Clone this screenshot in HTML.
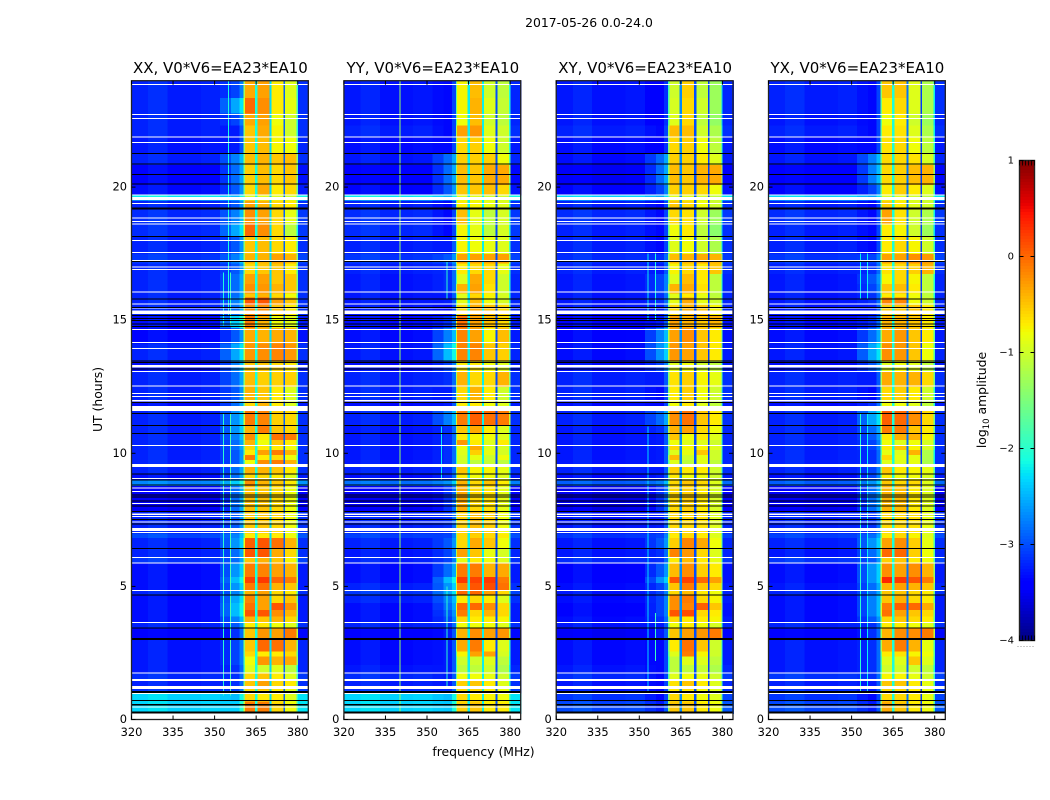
<!DOCTYPE html>
<html lang="en">
<head>
<meta charset="utf-8">
<title>2017-05-26 0.0-24.0</title>
<style>
html,body{margin:0;padding:0;background:#fff;width:1050px;height:800px;overflow:hidden}
svg{display:block}
text{font-family:"DejaVu Sans","Liberation Sans",sans-serif;fill:#000}
</style>
</head>
<body>
<svg id="chart" xmlns="http://www.w3.org/2000/svg" width="1050" height="800" viewBox="0 0 1050 800">
  <text x="589" y="27" font-size="12.4" text-anchor="middle">2017-05-26 0.0-24.0</text>
  <text x="483.5" y="756" font-size="12.4" text-anchor="middle">frequency (MHz)</text>
  <text transform="translate(102,399.5) rotate(-90)" font-size="12.4" text-anchor="middle">UT (hours)</text>
  <text transform="translate(986,400) rotate(-90)" font-size="12.4" text-anchor="middle">log<tspan font-size="8.5" dy="3">10</tspan><tspan dy="-3"> amplitude</tspan></text>
</svg>
<script>
// ---- Data: time rows (UT hours), frequency columns (MHz), log10 amplitudes ----
const utEdges = [24,23.35,22.77,22.31,21.87,21.24,20.83,20.08,19.69,19.49,19.14,18.61,18.15,17.49,17.13,16.74,16.36,16.01,15.86,15.58,15.17,14.71,14.13,13.44,13.10,12.50,11.98,11.59,11.05,10.75,10.50,10.29,10.12,9.94,9.75,9.60,9.22,9.00,8.77,7.81,6.99,6.81,6.42,6.09,5.87,5.36,5.12,4.85,4.67,4.37,4.11,3.86,3.65,3.41,3.02,2.55,2.36,2.05,1.74,1.46,1.13,0.98,0.67,0.23];
const freqEdges = [320,326,333,345,352,356,359,360.4,360.9,364.6,365.5,369.8,370.6,374.8,375.4,379.6,380.1,384];
const xTickLabels = [320,335,350,365,380];
const yTickLabels = [0,5,10,15,20];
const colorbarTicks = [1,0,-1,-2,-3,-4];
const colorMin = -4;
const colorMax = 1;
const panelTitles = ["XX, V0*V6=EA23*EA10","YY, V0*V6=EA23*EA10","XY, V0*V6=EA23*EA10","YX, V0*V6=EA23*EA10"];

// Each row: [low-band, near-edge, band1, band2, band3, band4]
const xxCells = [
[-3.1,-2.7,-.35,-.3,-.7,-.9],[-3.1,-2.2,0,-.2,-.7,-.85],[-3.1,-2.7,-.35,-.3,-.8,-1],[-3.1,-2.9,-.5,-.35,-.75,-1],[-3.15,-2.9,-.5,-.45,-.75,-.8],[-3.1,-2.4,-.45,-.4,-.5,-.45],[-3.25,-2.5,-.55,-.45,-.6,-.5],[-3.2,-2.6,-.6,-.35,-.7,-.6],[-2.1,-2.1,-.9,-.9,-.9,-1],
[-3.1,-2.6,-.3,-.4,-.6,-.7],[-3.05,-2.4,-.2,-.3,-.6,-.85],[-3.05,-2.2,0,-.2,-.6,-1.1],[-3.1,-2.6,-.5,-.45,-.6,-.7],[-3,-2.4,-.4,-.4,-.3,-.4],[-3.1,-2.6,-.6,-.5,-.5,-.7],[-3.1,-2.5,-.3,-.3,-.5,-.5],[-3.1,-2.5,-.2,-.25,-.4,-.5],[-3.1,-2.5,-.5,-.4,-.6,-.8],[-3.1,-2.4,.1,.1,-.3,-.5],[-3.1,-2.5,-.2,-.2,-.5,-.7],[-3.2,-2,-.1,-.4,-.8,-.9],[-3.25,-2.6,-.35,-.4,-.35,-.4],[-3.1,-2.2,-.25,-.2,-.15,-.25],[-3.2,-2.4,-.5,-.5,-.6,-.7],[-3.1,-2.5,-.45,-.55,-.55,-.55],[-3.1,-2.6,-.4,-.5,-.7,-.9],
[-3.2,-2.5,-.6,-.4,-.7,-.9],[-3.1,-2.3,-.1,-.15,-.55,-.6],[-3.1,-2.3,-.4,-.1,-.5,-.6],[-3.1,-2.4,-.2,-.7,-.05,-.1],[-3.1,-2.5,-.4,-.8,-.5,-.7],[-3.1,-2.5,-.6,-.7,-.7,-.8],[-3.1,-2.6,-.7,-.3,-.1,-.4],[-3.1,-2.6,-.1,-.7,-.6,-.8],[-3.1,-2.6,-.8,-.2,-.1,-.4],[-3.1,-2.5,-.4,-.4,-.5,-.7],[-3.2,-2.5,-.6,-.6,-.7,-.9],[-2.6,-2,-.2,-.4,-.5,-.7],[-3.35,-2.5,-.45,-.5,-.6,-.8],[-3.1,-2.6,-.5,-.5,-.6,-.8],[-2.9,-2.4,-.7,-.7,-.7,-.8],[-3.1,-2.3,.05,.1,-.05,-.4],[-3.1,-2.5,.1,.1,-.35,-.6],[-3,-2.5,-.5,-.4,-.5,-.75],[-3.2,-2.3,-.1,-.15,-.3,-.4],[-3.2,-2.1,.2,.25,0,-.1],[-3.2,-2.3,-.1,-.05,-.4,-.5],[-3.1,-2.4,-.4,-.3,-.6,-.7],[-3.2,-2.2,-.15,-.3,-.6,-.5],[-3.2,-2.1,-.05,-.3,.1,-.2],[-3.2,-2.1,.1,.1,-.2,-.4],[-3.2,-2.4,-.4,-.5,-.4,-.6],[-3.1,-2.6,-.7,-.7,-.8,-.9],[-3.3,-2.8,-.5,-.25,-.3,-.1],[-3.15,-2.7,-.5,0,-.05,-.4],[-3.15,-2.7,-.6,-.7,-.7,-.6],[-3.15,-2.7,-.8,-.25,-.4,-.35],[-3.15,-2.8,-.9,-1,-.9,-1.1],[-3.05,-2.8,-.6,-.5,-.7,-.9],[-3.1,-2.8,-.5,-.3,-.6,-.7],[-3,-2.7,-.6,-.6,-.7,-.9],[-2.2,-2.1,-.6,-.7,-.7,-.9],[-2.2,-2,-.1,-.1,-.6,-.8]
];
const yyCells = [
[-3.15,-3,-.75,-.45,-1,-1.1],[-3.15,-3,-.75,-.4,-.9,-1.05],[-3.15,-3,-.8,-.45,-1,-1.1],[-3.1,-3,-.3,-.25,-.9,-1],[-3.2,-3,-.6,-.55,-.8,-1],[-3.15,-2.5,-.55,-.55,-.55,-.8],[-3.3,-2.5,-.45,-.5,-.35,-.35],[-3.25,-2.6,-.5,-.5,-.45,-.6],[-2.1,-2.1,-.9,-.9,-1,-1],
[-3.1,-3,-.7,-.75,-.85,-.9],[-3.05,-3,-.45,-.85,-1.1,-.95],[-3.05,-3,-.75,-.85,-1.1,-.95],[-3.1,-2.9,-.75,-.8,-.85,-.9],[-3,-2.6,-.3,-.3,-.3,-.3],[-3.1,-2.8,-.7,-.6,-.6,-.85],[-3.15,-2.8,-.9,-.35,-.6,-1],[-3.15,-2.8,-.4,-.3,-.65,-1],[-3.15,-2.9,-.9,-.6,-.75,-.95],[-3.15,-2.9,-.85,-.45,-.8,-.95],[-3.15,-3,-.6,-.35,-.45,-.6],[-3.2,-2.8,-.05,-.3,-.45,-.6],[-3.2,-2.4,-.15,-.3,-.75,-.45],[-3.15,-2.1,-.15,-.15,-.5,-.55],[-3.2,-2.7,-.7,-.7,-.8,-.9],[-3.1,-2.8,-.4,-.6,-.6,-.4],[-3.1,-2.9,-.6,-.4,-.7,-1],
[-3.2,-2.9,-.7,-.7,-.8,-.9],[-3.1,-2.4,-.1,.05,-.05,-.1],[-3.15,-2.8,-.5,-.35,-.7,-.9],[-3.15,-2.8,-.7,-.75,-.8,-.9],[-3.15,-2.8,-.25,-.7,-.9,-.7],[-3.15,-2.8,-.8,-.35,-.9,-.95],[-3.15,-2.8,-.9,-.55,-.85,-.95],[-3.15,-2.8,-.95,-.85,-1,-.8],[-3.15,-2.8,-1,-1.1,-1.05,-1.1],[-3.1,-2.8,-.5,-.75,-.75,-.85],[-3.2,-2.8,-.7,-.8,-.8,-.9],[-2.7,-2.3,-.4,-.6,-.5,-.7],[-3.35,-2.8,-.35,-.6,-.65,-.85],[-3.1,-2.8,-.55,-.45,-.55,-.8],[-2.95,-2.7,-.6,-.55,-.6,-.7],[-3.1,-2.6,-.6,-.35,-.5,-.8],[-3.15,-2.7,-.3,-.5,-.85,-.95],[-3.1,-2.7,-.85,-.7,-.8,-.9],[-3.2,-2.5,-.1,-.1,-.4,-.35],[-3.2,-2.1,.25,.2,.25,-.1],[-3.1,-2.3,-.15,.1,.15,-.05],[-3,-2.2,0,0,-.3,-.6],[-3.1,-2.4,-.7,-.6,-.7,-.9],[-3.2,-2.5,0,0,-.2,-.6],[-3.2,-2.6,-.1,-.6,-.4,-.6],[-3.2,-2.7,-.6,-.7,-.7,-.75],[-3.1,-2.8,-.8,-.8,-.8,-.9],[-3.3,-2.9,-.4,-.2,-.3,-.25],[-3.2,-2.9,-.35,-.1,-.7,-.9],[-3.2,-2.9,-.75,-.3,-.3,-.95],[-3.2,-2.9,-1,-1,-.9,-1.1],[-3.15,-2.9,-1.1,-1.1,-1,-1.2],[-3.05,-2.9,-.8,-.8,-.85,-1],[-3.1,-2.9,-.55,-.5,-.7,-.9],[-3,-2.8,-.6,-.6,-.7,-.8],[-2.2,-2.1,-.6,-.7,-.75,-.8],[-2.2,-2.05,-.55,-.5,-.7,-.7]
];
const xyCells = [
[-3.15,-3.1,-1,-.55,-1.1,-1.3],[-3.15,-3.1,-.95,-.6,-1,-1.3],[-3.15,-3.1,-.9,-.6,-1.1,-1.35],[-3.1,-3,-.45,-.45,-1,-1.2],[-3.2,-3.1,-.6,-.55,-.8,-1.1],[-3.2,-2.5,-.55,-.55,-.7,-.9],[-3.35,-2.5,-.45,-.5,-.4,-.35],[-3.25,-2.7,-.55,-.55,-.6,-.8],[-2.2,-2.2,-.9,-.9,-1,-1.1],
[-3.1,-3,-.5,-.6,-.8,-1],[-3.05,-3,-.6,-.65,-1,-1.3],[-3.1,-3,-.8,-.7,-1.1,-1.4],[-3.1,-3,-.9,-.8,-1,-1.2],[-3.05,-2.8,-.45,-.4,-.35,-.4],[-3.1,-2.9,-.75,-.6,-.7,-.5],[-3.15,-2.7,-.9,-.45,-.7,-1.1],[-3.15,-2.7,-.4,-.35,-.65,-1.1],[-3.15,-2.8,-.9,-.7,-.85,-1.1],[-3.15,-2.8,-.85,-.35,-.85,-1],[-3.15,-2.9,-.6,-.4,-.5,-.75],[-3.25,-2.9,-.3,-.4,-.5,-.4],[-3.25,-2.4,-.3,-.2,-.5,-.7],[-3.2,-2.3,-.25,-.3,-.5,-.7],[-3.2,-2.7,-.9,-.8,-1,-1.1],[-3.1,-2.9,-.65,-.55,-.75,-.85],[-3.1,-3,-.7,-.55,-.8,-1],
[-3.2,-3,-.8,-.7,-.9,-1.1],[-3.1,-2.5,-.2,-.05,-.5,-.7],[-3.15,-2.8,-.4,-.3,-.6,-.8],[-3.15,-2.9,-.5,-.8,-.7,-.9],[-3.15,-2.9,-.8,-.9,-.9,-1],[-3.15,-2.9,-.6,-.75,-.75,-.9],[-3.15,-2.9,-.9,-.85,-.5,-1],[-3.15,-2.9,-.45,-1,-.85,-1],[-3.15,-2.9,-.9,-1.1,-.9,-1.1],[-3.1,-2.9,-.55,-.7,-.7,-1],[-3.2,-2.9,-.7,-.8,-.8,-1],[-2.8,-2.4,-.6,-.5,-.6,-.9],[-3.4,-2.8,-.6,-.55,-.7,-.95],[-3.15,-2.9,-.6,-.6,-.65,-.9],[-3,-2.7,-.7,-.6,-.7,-.9],[-3.15,-2.6,-.55,-.15,-.35,-.8],[-3.15,-2.8,-.15,-.25,-.6,-.9],[-3.05,-2.8,-.7,-.45,-.7,-.85],[-3.25,-2.6,-.45,-.2,-.55,-.7],[-3.25,-2.3,.1,.2,0,-.3],[-3.2,-2.7,-.5,-.1,-.5,-.6],[-3.15,-2.7,-.6,-.45,-.7,-.8],[-3.2,-2.7,-.2,-.1,-.6,-.75],[-3.25,-2.7,-.2,-.15,.05,-.5],[-3.25,-2.7,.1,.15,-.6,-.7],[-3.2,-2.8,-.6,-.7,-.7,-.75],[-3.15,-2.9,-.8,-.7,-.8,-.95],[-3.35,-2.9,-.5,-.3,-.25,-.1],[-3.2,-3,-.7,-.05,-.5,-1],[-3.2,-3,-.9,-.1,-.75,-1],[-3.2,-3,-1.1,-.9,-.9,-1.1],[-3.15,-3,-1.1,-1.1,-1.05,-1.2],[-3.05,-3,-.9,-.8,-.85,-1],[-3.15,-3,-.65,-.5,-.7,-.9],[-3.1,-3,-.7,-.7,-.8,-.9],[-3,-3,-.6,-.7,-.8,-.9],[-2.9,-2.9,-.5,-.5,-.7,-.8]
];
const yxCells = [
[-3.1,-3,-.5,-.5,-.9,-1.2],[-3.1,-3,-.7,-.6,-.9,-1.2],[-3.15,-3,-.8,-.7,-1,-1.3],[-3.1,-3,-.7,-.65,-.9,-1.2],[-3.2,-3,-.65,-.6,-.8,-1.1],[-3.15,-2.4,-.6,-.6,-.65,-.95],[-3.3,-2.4,-.6,-.55,-.45,-.4],[-3.25,-2.7,-.7,-.55,-.7,-.9],[-2.2,-2.2,-.9,-.9,-1,-1.1],
[-3.1,-3,-.55,-.7,-.9,-1],[-3.05,-3,-.3,-.65,-1,-1.2],[-3.1,-3,-.7,-.75,-1,-1.3],[-3.1,-3,-.7,-.6,-.75,-1],[-3,-2.7,-.3,-.3,-.2,-.25],[-3.1,-2.8,-.65,-.6,-.55,-.4],[-3.15,-2.6,-.75,-.6,-.75,-1.1],[-3.15,-2.7,-.5,-.45,-.7,-1.1],[-3.15,-2.8,-.7,-.7,-.8,-1.1],[-3.15,-2.8,-.15,-.15,-.8,-1],[-3.15,-2.9,-.55,-.5,-.5,-.7],[-3.2,-2.8,-.4,-.4,-.5,-.7],[-3.2,-2.5,-.35,-.25,-.5,-.7],[-3.15,-2.2,-.2,-.25,-.5,-.8],[-3.2,-2.6,-.9,-.8,-.9,-1.1],[-3.1,-2.9,-.35,-.4,-.4,-.6],[-3.1,-3,-.6,-.55,-.7,-1],
[-3.2,-2.8,-.8,-.8,-.9,-1.1],[-3.1,-2.2,.05,0,-.2,-.6],[-3.1,-2.5,-.1,-.1,-.5,-.7],[-3.1,-2.6,-.7,-.4,-.4,-.75],[-3.1,-2.7,-.8,-.9,-.8,-.95],[-3.1,-2.7,-.7,-.5,-.75,-.95],[-3.1,-2.8,-.85,-.9,-.4,-1.2],[-3.1,-2.8,-.6,-.85,-.85,-1.2],[-3.1,-2.8,-.9,-.9,-.85,-1.2],[-3.1,-2.7,-.5,-.7,-.75,-.85],[-3.2,-2.7,-.7,-.8,-.8,-.95],[-2.8,-2.3,-.5,-.6,-.6,-.9],[-3.35,-2.5,-.4,-.45,-.7,-.9],[-3.1,-2.8,-.6,-.6,-.65,-.85],[-2.95,-2.5,-.7,-.6,-.75,-.9],[-3.1,-2.3,-.3,-.2,-.55,-.85],[-3.15,-2.5,0,0,-.55,-.8],[-3,-2.6,-.55,-.5,-.7,-.8],[-3.2,-2.3,-.2,-.3,-.2,-.4],[-3.2,-2.3,.35,.25,.1,-.1],[-3.15,-2.5,-.4,-.3,-.4,-.5],[-3.1,-2.5,-.5,-.5,-.6,-.7],[-3.2,-2.4,-.5,-.4,-.6,-.7],[-3.2,-2.4,-.1,.05,0,-.35],[-3.2,-2.4,-.05,-.3,-.5,-.6],[-3.2,-2.6,-.6,-.5,-.6,-.7],[-3.1,-2.8,-.7,-.7,-.8,-.9],[-3.3,-2.8,-.4,-.2,-.2,-.1],[-3.15,-2.8,-.35,-.1,-.4,-.85],[-3.15,-2.8,-.7,-.65,-.75,-.8],[-3.15,-2.8,-.9,-.9,-.5,-.9],[-3.15,-2.8,-1,-1,-1,-1.1],[-3,-2.8,-.75,-.75,-.85,-1],[-3.1,-2.9,-.5,-.5,-.7,-.85],[-3,-2.9,-.6,-.6,-.7,-.85],[-3,-3,-.6,-.6,-.7,-.85],[-2.9,-2.9,-.35,-.5,-.7,-.8]
];

// Offsets of the low-band sub-columns relative to the row's low-band level
const lowBandOffsets = [0.03,0.1,0,0.03];
// Log amplitude in the narrow gaps between the four sub-bands, per panel
const xxGaps = [-2.1,-2.3,-2.9];
const yyGaps = [-2.2,-2.2,-3.0];
const xyGaps = [-2.7,-3.0,-3.1];
const yxGaps = [-2.1,-2.8,-3.1];

// Narrow interference lines per panel: [MHz, log amplitude, UT start, UT end]
const xxLines = [[354.9,-2.1,15.2,24],[353.1,-2,11.5,0.9],[355.6,-1.8,11.5,0.9],[353.1,-2.1,16.8,14.8],[355.6,-1.9,16.8,14.8]];
const yyLines = [[340,-1.35,0.3,24],[357,-2.0,1.2,5],[355,-2.2,9,11],[357,-2,15.8,17.2]];
const xyLines = [[353,-2.3,1,11],[355.6,-1.9,2.2,4],[355.6,-2.1,15,17.5],[353,-2.2,15,17.5]];
const yxLines = [[353,-2,1,11.5],[355.6,-2.2,1,11.5],[353,-2.2,15.8,17.5],[355.6,-2.2,15.8,17.5]];

// Flagged (blank = white, zero = black) time ranges shared by all panels
const thinWhiteFlags = [23.86,22.73,22.58,21.89,21.68,19.70,19.39,18.83,18.70,18.61,18.00,17.55,17.24,16.99,16.91,16.05,15.60,15.45,14.66,14.17,13.94,13.08,12.52,12.24,12.13,10.30,9.05,8.69,8.56,8.12,7.62,7.42,7.02,6.09,5.87,4.85,3.65,1.74,0.97,0.47];
const thickWhiteFlags = [[19.63,19.52],[15.36,15.23],[13.32,13.23],[12.00,11.95],[11.78,11.59],[9.60,9.49],[7.74,7.68],[7.19,7.08],[1.52,1.45],[1.26,1.15],[0.23,0]];
const thinBlackFlags = [21.27,20.86,20.48,20.11,18.15,17.20,15.79,15.48,15.18,15.06,14.98,14.86,14.77,13.47,13.42,13.16,11.90,11.50,11.04,10.75,9.22,8.99,8.81,8.43,8.35,8.21,8.02,7.81,7.52,7.34,6.43,4.67,3.43,0.71];
const thickBlackFlags = [[19.23,19.15],[3.06,2.99],[1.07,1.00],[0.58,0.52],[0.30,0.23]];

// ---- Layout ----
const SVG_NS = 'http://www.w3.org/2000/svg';
const svg = document.getElementById('chart');
const plotTop = 80.7, plotBottom = 719.5, pxPerHour = 26.62, pxPerMHz = 2.77, plotWidth = 176.8;
const lowLevelShift = -0.15, nearLevelShift = -0.35;
const panels = [
  {key:'xx', left:131.5, cells:xxCells, gaps:xxGaps, lines:xxLines},
  {key:'yy', left:343.9, cells:yyCells, gaps:yyGaps, lines:yyLines},
  {key:'xy', left:556.2, cells:xyCells, gaps:xyGaps, lines:xyLines},
  {key:'yx', left:768.5, cells:yxCells, gaps:yxGaps, lines:yxLines}
];
function yScale(ut){ return plotBottom - ut * pxPerHour; }
function xScale(left, f){ return left + (f - 320) * pxPerMHz; }
function colorFrac(v){ return Math.max(0, Math.min(1, (v - colorMin) / (colorMax - colorMin))); }
function ramp(t, pts){
  for (let i = 1; i < pts.length; i++) {
    if (t <= pts[i][0]) {
      const a = pts[i-1], b = pts[i];
      return a[1] + (b[1]-a[1]) * (t-a[0]) / (b[0]-a[0]);
    }
  }
  return pts[pts.length-1][1];
}
function jet(t){
  const r = ramp(t, [[0,0],[.35,0],[.66,1],[.89,1],[1,.5]]);
  const g = ramp(t, [[0,0],[.125,0],[.375,1],[.64,1],[.91,0],[1,0]]);
  const b = ramp(t, [[0,.5],[.11,1],[.34,1],[.65,0],[1,0]]);
  return 'rgb(' + Math.round(r*255) + ',' + Math.round(g*255) + ',' + Math.round(b*255) + ')';
}
function make(tag, geometry, parent){
  const node = document.createElementNS(SVG_NS, tag);
  for (const k in geometry) node.setAttribute(k, geometry[k]);
  parent.appendChild(node);
  return node;
}
// Map one data row to the value of each frequency column
function rowColumns(row, gaps){
  const low = row[0] + lowLevelShift, near = row[1] + nearLevelShift;
  return [
    low + lowBandOffsets[0], low + lowBandOffsets[1], low + lowBandOffsets[2], low + lowBandOffsets[3],
    (low + near) / 2, near, near + 0.3,
    row[2] - 0.9, row[2], gaps[0], row[3], gaps[1], row[4], gaps[2], row[5],
    row[5] - 1, low + 0.1
  ];
}

panels.forEach(function(p, pi){
  const group = make('g', {}, svg);
  
  

  const title = make('text', {x: p.left + plotWidth/2 + 0.5, y: 73, 'font-size': 15, 'text-anchor': 'middle'}, group);
  title.textContent = panelTitles[pi];
  
  

  const heat = make('g', {'shape-rendering': 'crispEdges'}, group);
  
  

  for (let r = 0; r < utEdges.length - 1; r++) {
    const y0 = yScale(utEdges[r]), y1 = yScale(utEdges[r+1]);
    const values = rowColumns(p.cells[r], p.gaps);
    for (let c = 0; c < freqEdges.length - 1; c++) {
      const x0 = xScale(p.left, freqEdges[c]), x1 = xScale(p.left, freqEdges[c+1]);
      const cell = make('rect', {x: x0, y: y0, width: x1 - x0 + 0.4, height: y1 - y0 + 0.4, fill: jet(colorFrac(values[c]))}, heat);
      
      
    }
  }

  p.lines.forEach(function(l){
    const lx = xScale(p.left, l[0]);
    const lineTop = yScale(Math.max(l[2], l[3])), lineBottom = yScale(Math.min(l[2], l[3]));
    const rfi = make('rect', {x: lx, y: lineTop, width: 1, height: lineBottom - lineTop, fill: jet(colorFrac(l[1]))}, heat);
    
    
  });

  function drawFlag(utHigh, utLow, color, thin){
    const fy = thin ? yScale(utHigh) - 0.5 : yScale(utHigh);
    const fh = thin ? 1 : yScale(utLow) - yScale(utHigh);
    const flag = make('rect', {x: p.left, y: fy, width: plotWidth, height: fh, fill: color}, heat);
    
    
  }
  thinWhiteFlags.forEach(function(u){ drawFlag(u, u, '#fff', true); });
  thickWhiteFlags.forEach(function(u){ drawFlag(u[0], u[1], '#fff', false); });
  thinBlackFlags.forEach(function(u){ drawFlag(u, u, '#000', true); });
  thickBlackFlags.forEach(function(u){ drawFlag(u[0], u[1], '#000', false); });

  // Spine
  const frame = make('rect', {x: p.left, y: plotTop, width: plotWidth, height: plotBottom - plotTop, fill: 'none', stroke: '#222', 'stroke-width': 1.3}, group);
  
  

  // X ticks
  xTickLabels.forEach(function(f){
    const tx = xScale(p.left, f);
    const bottomTick = make('line', {x1: tx, x2: tx, y1: plotBottom, y2: plotBottom - 4, stroke: '#000', 'stroke-width': 1}, group);
    
    
    const topTick = make('line', {x1: tx, x2: tx, y1: plotTop, y2: plotTop + 4, stroke: '#000', 'stroke-width': 1}, group);
    
    
    const label = make('text', {x: tx, y: 736, 'font-size': 11.4, 'text-anchor': 'middle'}, group);
    label.textContent = f;
    
    
  });
  // Y ticks
  yTickLabels.forEach(function(u){
    const ty = yScale(u);
    const leftTick = make('line', {x1: p.left, x2: p.left + 4, y1: ty, y2: ty, stroke: '#000', 'stroke-width': 1}, group);
    
    
    const rightTick = make('line', {x1: p.left + plotWidth, x2: p.left + plotWidth - 4, y1: ty, y2: ty, stroke: '#000', 'stroke-width': 1}, group);
    
    
    const label = make('text', {x: p.left - 4.5, y: ty + 3.5, 'font-size': 11.4, 'text-anchor': 'end'}, group);
    label.textContent = u;
    
    
  });
});

// ---- Colorbar ----
const cbLeft = 1019.5, cbRight = 1034.5, cbTop = 160.5, cbBottom = 640.5;
function cbY(v){ return cbBottom - (v - colorMin) / (colorMax - colorMin) * (cbBottom - cbTop); }
const cb = make('g', {}, svg);


const cbSteps = make('g', {'shape-rendering': 'crispEdges'}, cb);


for (let i = 0; i < 160; i++) {
  const v0 = colorMin + (colorMax - colorMin) * i / 160;
  const v1 = colorMin + (colorMax - colorMin) * (i + 1) / 160;
  const step = make('rect', {x: cbLeft, y: cbY(v1), width: cbRight - cbLeft, height: cbY(v0) - cbY(v1) + 0.4, fill: jet((i + 0.5) / 160)}, cbSteps);
  
  
}
const cbFrame = make('rect', {x: cbLeft, y: cbTop, width: cbRight - cbLeft, height: cbBottom - cbTop, fill: 'none', stroke: '#222', 'stroke-width': 1.4}, cb);


colorbarTicks.forEach(function(v){
  const ty = cbY(v);
  const a = make('line', {x1: cbLeft, x2: cbLeft + 4, y1: ty, y2: ty, stroke: '#000', 'stroke-width': 1}, cb);
  
  
  const b = make('line', {x1: cbRight, x2: cbRight - 4, y1: ty, y2: ty, stroke: '#000', 'stroke-width': 1}, cb);
  
  
  const label = make('text', {x: 1014, y: ty + 3, 'font-size': 10, 'text-anchor': 'end'}, cb);
  label.textContent = v < 0 ? '\u2212' + Math.abs(v) : String(v);
  
  
});
for (let i = 0; i < 6; i++) {
  const tx = cbLeft + i * (cbRight - cbLeft) / 5;
  const topMinor = make('line', {x1: tx, x2: tx, y1: cbTop, y2: cbTop + 5, stroke: '#000', 'stroke-width': 0.8}, cb);
  
  
  const bottomMinor = make('line', {x1: tx, x2: tx, y1: cbBottom, y2: cbBottom - 5, stroke: '#000', 'stroke-width': 0.8}, cb);
  
  
  const dot = make('rect', {x: tx - 2, y: 646, width: 1, height: 1, fill: '#999'}, cb);
  
  
}
</script>
</body>
</html>
